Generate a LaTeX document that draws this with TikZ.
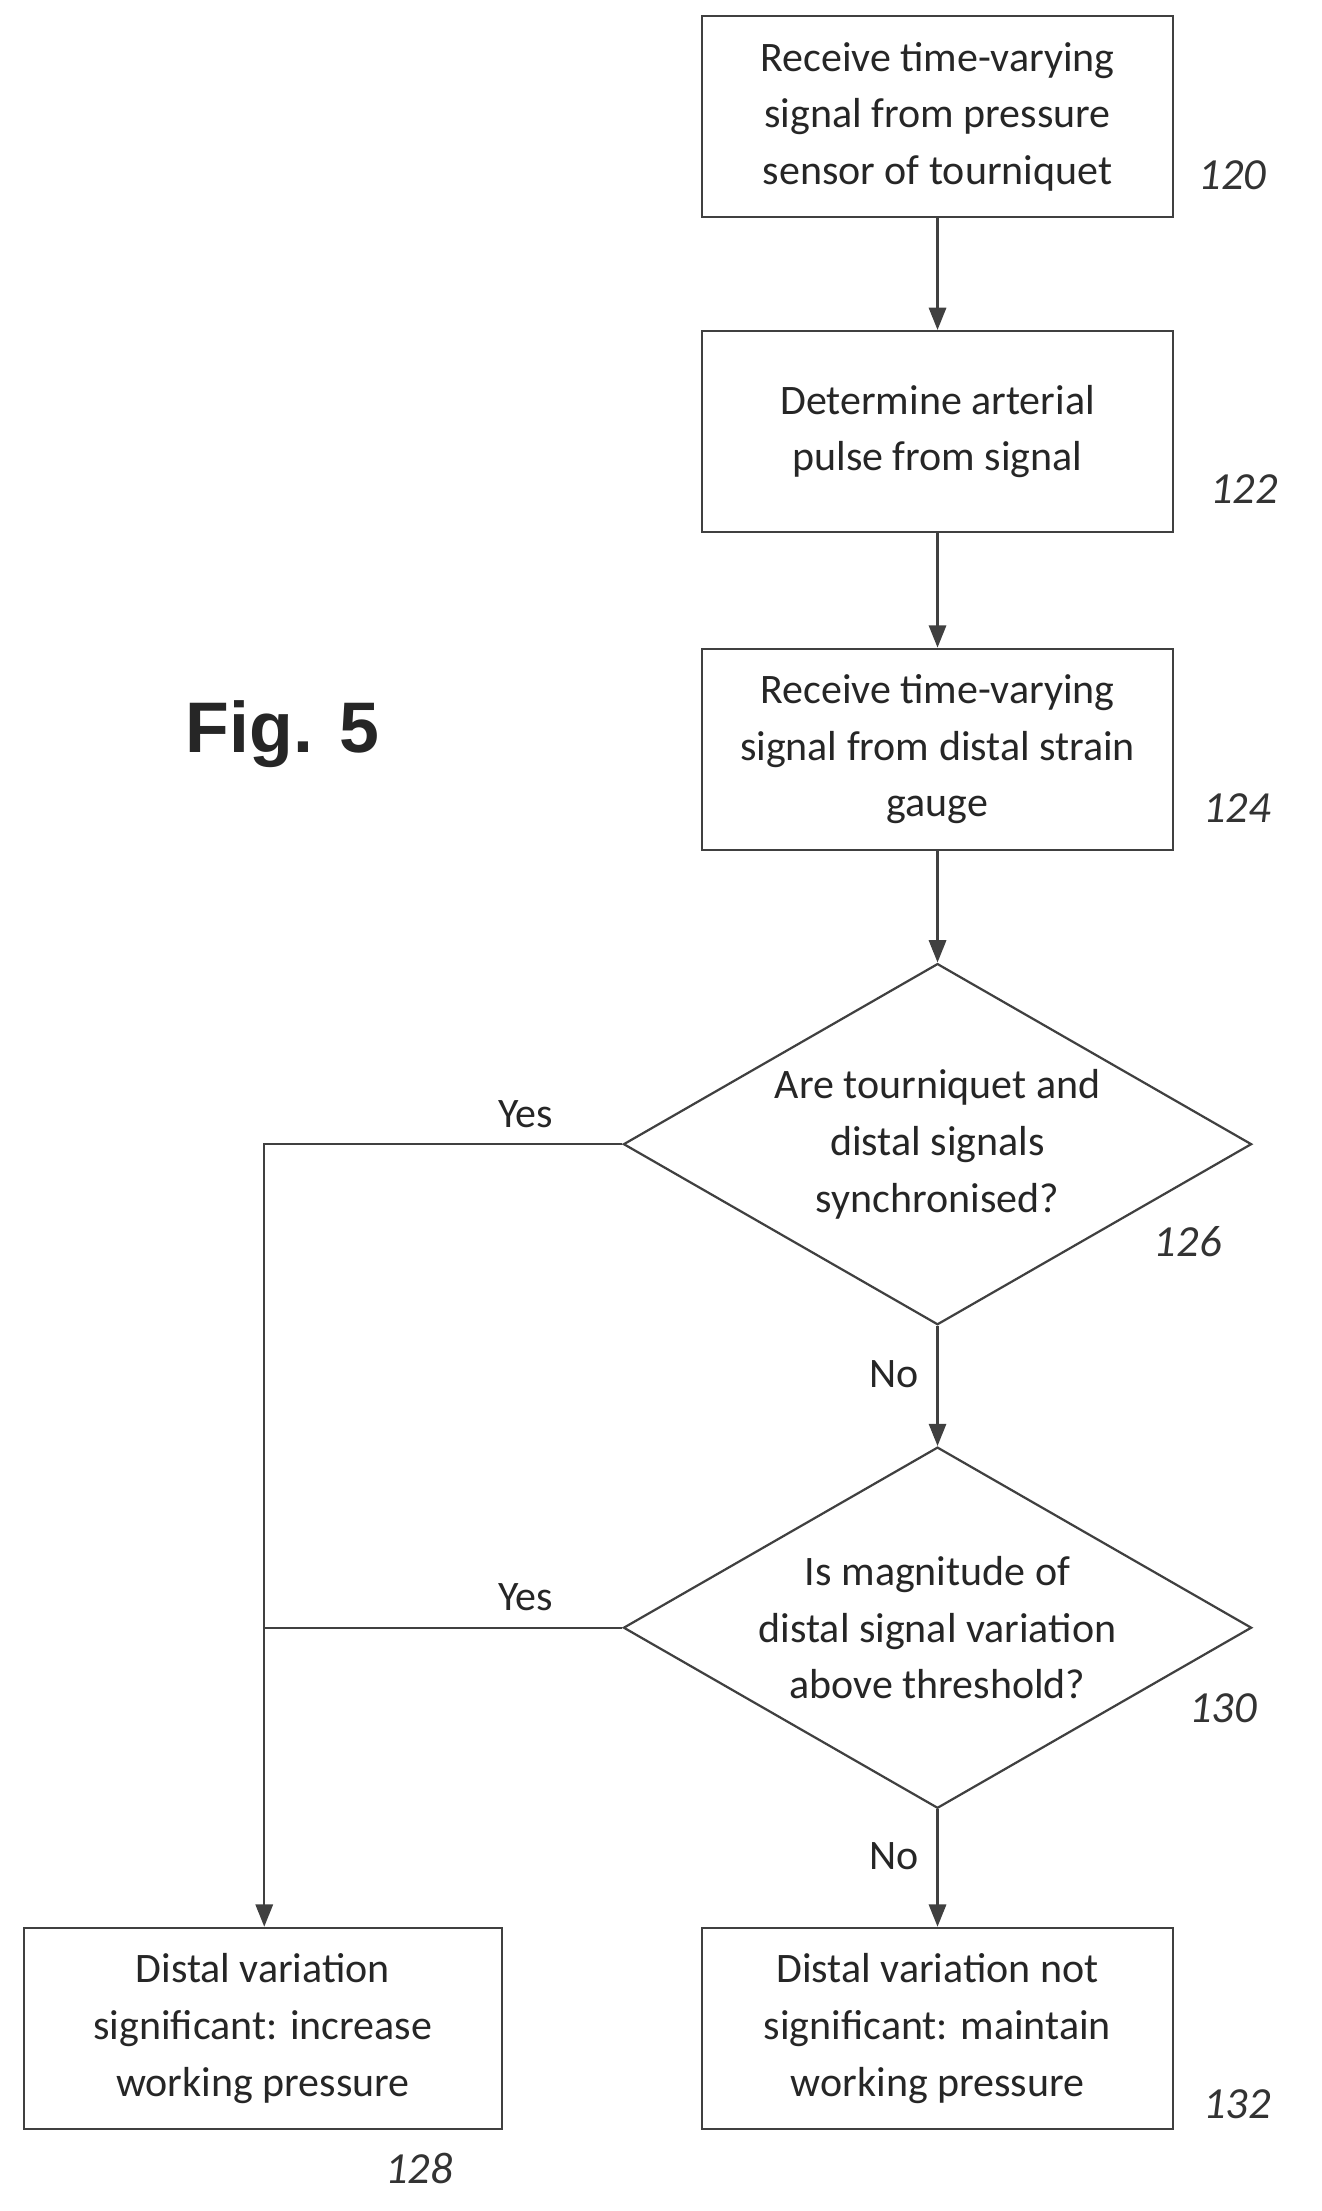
\documentclass[tikz,border=0pt]{standalone}
\usepackage{fontspec}
\setmainfont{Carlito}
\newfontfamily\figfont{Liberation Sans}
\usetikzlibrary{shapes.geometric,arrows.meta}
\begin{document}
\begin{tikzpicture}[x=0.02cm,y=-0.02cm,
  box/.style={draw=black!75,line width=0.9pt,minimum width=6.7cm,minimum height=2.86cm,align=center,font=\fontsize{17}{23}\selectfont,text=black!85},
  dia/.style={draw=black!75,line width=0.9pt,diamond,aspect=1.74,minimum width=8.94cm,minimum height=5.14cm,align=center,inner sep=0pt,font=\fontsize{17}{23}\selectfont,text=black!85},
  arr/.style={draw=black!75,line width=0.9pt,-{Triangle[length=9pt,width=7pt]}},
  lbl/.style={font=\fontsize{17}{20}\selectfont,text=black!85},
  num/.style={font=\itshape\fontsize{18}{20}\selectfont,text=black!80}]
\useasboundingbox (0,0) rectangle (940,1573);
\node[box] (b120) at (667,83) {Receive time-varying\\signal from pressure\\sensor of tourniquet};
\node[box] (b122) at (667,307) {Determine arterial\\pulse from signal};
\node[box] (b124) at (667,533) {Receive time-varying\\signal from distal strain\\gauge};
\node[dia] (d126) at (667,814) {Are tourniquet and\\distal signals\\synchronised?};
\node[dia] (d130) at (667,1158) {Is magnitude of\\distal signal variation\\above threshold?};
\node[box,minimum width=6.8cm] (b128) at (187,1443) {Distal variation\\significant: increase\\working pressure};
\node[box] (b132) at (667,1443) {Distal variation not\\significant: maintain\\working pressure};
\node[font=\figfont\bfseries\fontsize{29}{34}\selectfont,text=black!85] (fig) at (201,522) {Fig. 5};
\coordinate (c1) at (188,814);
\coordinate (c2) at (188,1158);
\draw[arr] (b120) -- (b122);
\draw[arr] (b122) -- (b124);
\draw[arr] (b124) -- (d126);
\draw[arr] (d126) -- node[lbl,left=4pt,pos=0.4]{No} (d130);
\draw[arr] (d130) -- node[lbl,left=4pt,pos=0.4]{No} (b132);
\draw[arr] (d126.west) -- node[lbl,above=3pt,pos=0.27]{Yes} (c1) -- (c1 |- b128.north);
\draw[draw=black!75,line width=0.9pt] (d130.west) -- node[lbl,above=3pt,pos=0.27]{Yes} (c2);
\node[num] (n120) at (877,125) {120};
\node[num] (n122) at (885,348) {122};
\node[num] (n124) at (880,575) {124};
\node[num] (n126) at (845,883) {126};
\node[num] (n130) at (870,1215) {130};
\node[num] (n128) at (298,1543) {128};
\node[num] (n132) at (880,1497) {132};
\end{tikzpicture}
\end{document}
